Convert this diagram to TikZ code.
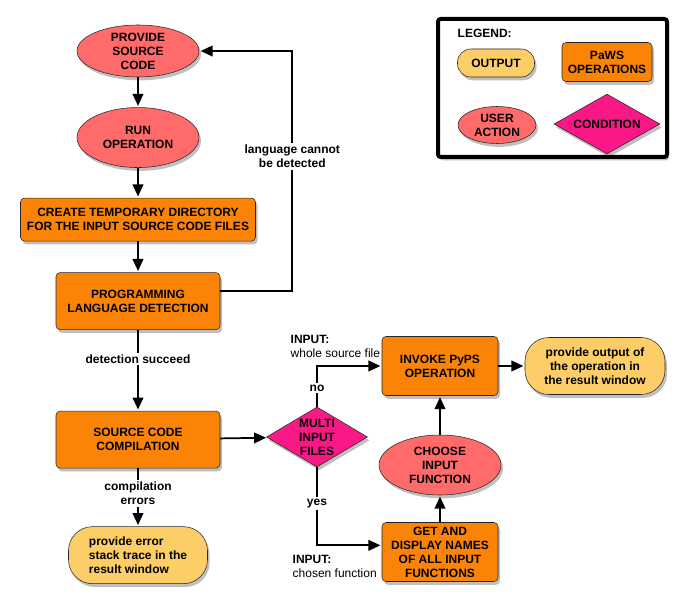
\documentclass[tikz,border=0pt]{standalone}
\usepackage{fontspec}
\setmainfont{Liberation Sans}
\usetikzlibrary{shapes.geometric, arrows.meta, positioning, shadows}
\definecolor{cUser}{RGB}{255,106,106}
\definecolor{cPaws}{RGB}{251,132,6}
\definecolor{cOutput}{RGB}{253,205,103}
\definecolor{cCond}{RGB}{250,24,134}
\tikzset{
	softshadow/.style={drop shadow={shadow xshift=1.5pt, shadow yshift=-2.5pt, opacity=0.25, fill=black}},
	useract/.style   ={ellipse, draw=black!85, fill=cUser, minimum width=91.5pt, minimum height=39pt, inner xsep=0pt, inner ysep=-3pt, align=center, softshadow},
	pawsop/.style    ={rectangle, rounded corners=3pt, draw=black!85, fill=cPaws, minimum width=123pt, minimum height=42.75pt, inner sep=1pt, align=center, softshadow},
	outbox/.style    ={rectangle, rounded corners=18pt, draw=black!85, fill=cOutput, minimum width=105pt, minimum height=42.75pt, inner sep=1pt, softshadow},
	cond/.style      ={diamond, draw=black!85, fill=cCond, inner sep=-8pt, align=center, softshadow},
	flow/.style      ={-{Triangle[length=9pt, width=8pt]}, shorten >=1pt, line width=1.3pt},
	elabel/.style    ={fill=white, inner sep=1.5pt, align=center},
}
\begin{document}
\begin{tikzpicture}[x=0.75pt, y=-0.75pt, every node/.style={font=\fontsize{9}{10.5}\selectfont\bfseries}]
	\useasboundingbox (0,0) rectangle (687,606);
	% main column
	\node[useract] (provide) at (138,51) {PROVIDE\\ SOURCE\\ CODE};
	\node[useract, below=22.5pt of provide, minimum height=45pt] (run) {RUN\\ OPERATION};
	\node[pawsop, below=22.5pt of run, minimum width=176.25pt, minimum height=32.25pt] (tmpdir) {CREATE TEMPORARY DIRECTORY\\ FOR THE INPUT SOURCE CODE FILES};
	\node[pawsop, below=23.25pt of tmpdir] (detect) {PROGRAMMING\\ LANGUAGE DETECTION};
	\node[pawsop, below=60.75pt of detect] (compile) {SOURCE CODE\\ COMPILATION};
	\node[outbox, below=43.5pt of compile, minimum width=104.25pt, align=left] (errout) {provide error\\ stack trace in the\\ result window};
	% right part
	\node[cond, minimum width=75.75pt, minimum height=45pt] (multi) at (317,437) {MULTI\\ INPUT\\ FILES};
	\node[pawsop, minimum width=87pt, minimum height=44.25pt] (invoke) at (440,366) {INVOKE PyPS\\ OPERATION};
	\node[outbox, align=center] (result) at (595,366) {provide output of\\ the operation in\\ the result window};
	\node[useract, minimum height=45pt] (choose) at (440,465) {CHOOSE\\ INPUT\\ FUNCTION};
	\node[pawsop, minimum width=87pt, minimum height=44.25pt] (getnames) at (440,552) {GET AND\\ DISPLAY NAMES\\ OF ALL INPUT\\ FUNCTIONS};
	\node[anchor=west, align=left] (inwhole) at (286,346) {INPUT:\\ \mdseries whole source file};
	\node[anchor=west, align=left] (inchosen) at (288,566.5) {INPUT:\\ \mdseries chosen function};
	% connectors
	\draw[flow] (provide) -- (run);
	\draw[flow] (run) -- (tmpdir);
	\draw[flow] (tmpdir) -- (detect);
	\draw[flow] (detect) -- node[elabel, pos=0.36] {detection succeed} (compile);
	\draw[flow] (compile) -- node[elabel, pos=0.43] {compilation\\ errors} (errout);
	\draw[flow] ([yshift=7.5pt]detect.east) -- ++(54pt,0) |- node[elabel, pos=0.28] {language cannot\\ be detected} (provide.east);
	\draw[flow] (compile) -- (multi);
	\draw[flow] (multi.north) |- node[elabel, pos=0.23] {no} (invoke.west);
	\draw[flow] (multi.south) |- node[elabel, pos=0.23] {yes} ([yshift=5pt]getnames.west);
	\draw[flow] (getnames) -- (choose);
	\draw[flow] (choose) -- (invoke);
	\draw[flow] (invoke) -- (result);
	% legend
	\node[draw=black, line width=3pt, rounded corners=2pt, fill=white, minimum width=171.75pt, minimum height=103.5pt, softshadow] (legend) at (552.5,88) {};
	\node[anchor=west] (legtitle) at (453,33) {LEGEND:};
	\node[outbox, rounded corners=10pt, minimum width=57.75pt, minimum height=21pt] (legout) at (496,63) {OUTPUT};
	\node[pawsop, minimum width=67.5pt, minimum height=29.25pt] (legpaws) at (607,62) {PaWS\\ OPERATIONS};
	\node[useract, minimum width=58.5pt, minimum height=27.75pt] (leguser) at (497,125) {USER\\ ACTION};
	\node[cond, inner sep=-3pt, minimum width=79.5pt, minimum height=36.75pt] (legcond) at (607,124) {CONDITION};
\end{tikzpicture}
\end{document}
